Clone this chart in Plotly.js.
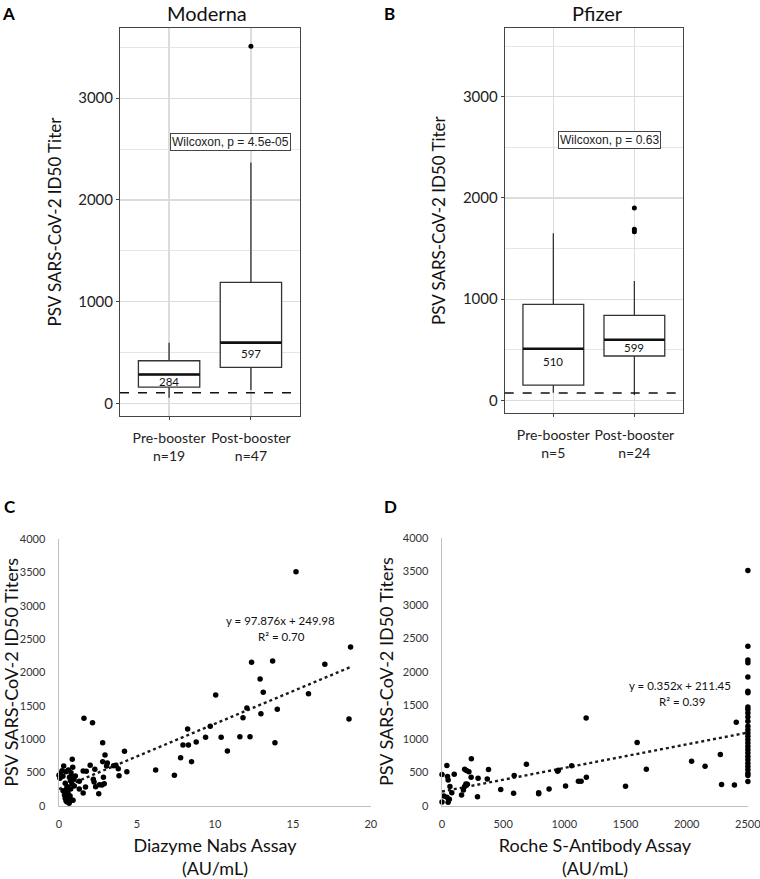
<!DOCTYPE html>
<html>
<head>
<meta charset="utf-8">
<script src="https://cdn.plot.ly/plotly-3.0.1.min.js"></script>
<style>html,body{margin:0;padding:0;background:#fff}#chart{width:760px;height:879px}</style>
</head>
<body>
<div id="chart"></div>
<script>
// ---------- Data ----------
const boxPositions = [1, 2];
const modernaCats = ['Pre-booster<br>n=19', 'Post-booster<br>n=47'];
const pfizerCats = ['Pre-booster<br>n=5', 'Post-booster<br>n=24'];

const modernaQ1 = [160, 354];
const modernaMedian = [284, 597];
const modernaQ3 = [419, 1190];
const modernaLow = [55, 131];
const modernaHigh = [596, 2367];
const modernaOutX = [2];
const modernaOutY = [3510];
const modernaLOD = 105;
const modernaP = '4.5e-05';

const pfizerQ1 = [151, 438];
const pfizerMedian = [510, 599];
const pfizerQ3 = [949, 840];
const pfizerLow = [75, 52];
const pfizerHigh = [1650, 1179];
const pfizerOutX = [2, 2, 2];
const pfizerOutY = [1900, 1690, 1665];
const pfizerLOD = 72;
const pfizerP = '0.63';

const diazymeX = [15.2, 18.7, 12.35, 13.7, 17.05, 12.9, 10.05, 13.1, 16.0, 1.6, 2.15, 18.6, 12.05, 14.0, 12.95, 11.8, 9.7, 8.25, 9.4, 10.4, 11.6, 12.25, 7.95, 8.3, 8.8, 13.85, 10.8, 7.8, 8.5, 6.2, 7.4, 4.2, 2.8, 2.95, 2.8, 3.1, 3.05, 3.5, 3.65, 3.8, 3.85, 4.35, 2.0, 2.3, 1.75, 1.55, 2.2, 2.25, 2.35, 2.6, 2.75, 2.85, 2.9, 2.55, 1.7, 1.55, 1.3, 1.3,
  0.85, 0.3, 0.0, 0.06, 0.2, 0.45, 0.6, 0.77, 0.88, 0.9, 1.05, 0.96, 0.98, 0.73, 0.4, 0.5, 0.26, 0.35, 0.4, 0.5, 0.65, 0.65, 0.71, 0.8, 0.43, 0.55, 0.83, 0.67, 0.55, 0.6, 0.45, 0.75, 0.9, 0.1, 0.25];
const diazymeY = [3510, 2380, 2150, 2170, 2120, 1900, 1660, 1700, 1680, 1310, 1245, 1300, 1465, 1445, 1380, 1320, 1190, 1150, 1025, 1025, 1035, 1035, 910, 910, 955, 945, 820, 720, 660, 535, 455, 815, 945, 760, 660, 640, 595, 600, 605, 555, 450, 510, 605, 545, 515, 520, 395, 355, 285, 315, 310, 425, 330, 180, 280, 190, 250, 365,
  695, 595, 455, 410, 525, 510, 535, 495, 575, 435, 445, 395, 295, 375, 335, 260, 225, 160, 110, 60, 35, 110, 145, 85, 195, 285, 325, 425, 220, 170, 75, 250, 80, 490, 440];
const diazymeSlope = 97.876;
const diazymeIntercept = 249.98;
const diazymeR2 = '0.70';

const rocheX = [0, 0, 15, 40, 45, 50, 40, 50, 65, 60, 80, 100, 160, 175, 185, 185, 200, 220, 195, 207, 240, 238, 290, 295, 370, 380, 480, 585, 590, 690, 790, 790, 875, 945, 951, 1010, 1060, 1115, 1137, 1178, 1180, 1500, 1595, 1670, 2040, 2150, 2275, 2285, 2390, 2405,
  2500, 2500, 2500, 2500, 2500, 2500, 2500, 2500, 2500, 2500, 2500, 2500, 2500, 2500, 2500, 2500, 2500, 2500, 2500, 2500, 2500, 2500, 2500, 2500, 2500, 2500, 2500, 2500, 2500];
const rocheY = [465, 55, 145, 600, 435, 385, 125, 50, 285, 95, 195, 470, 160, 235, 285, 545, 525, 505, 325, 320, 700, 425, 135, 410, 400, 540, 240, 185, 450, 620, 195, 180, 250, 515, 530, 295, 595, 365, 365, 1310, 425, 290, 945, 545, 665, 590, 765, 315, 310, 1245,
  3510, 2380, 2175, 2135, 1920, 1710, 1685, 1475, 1435, 1385, 1325, 1260, 1185, 1135, 1085, 1035, 985, 935, 885, 835, 785, 735, 685, 635, 585, 535, 485, 450, 360];
const rocheSlope = 0.352;
const rocheIntercept = 211.45;
const rocheR2 = '0.39';

// ---------- Build traces ----------
const FONT = 'Lato, "Open Sans", sans-serif';
const ARIAL = '"Liberation Sans", Arial, sans-serif';
const BOXW = 0.75;

function boxTraces(q1, med, q3, lo, hi, outX, outY, xa, ya) {
  const mx = [], my = [];
  boxPositions.forEach((p, i) => { mx.push(p - BOXW / 2, p + BOXW / 2, null); my.push(med[i], med[i], null); });
  return [
    {type: 'box', x: boxPositions, q1: q1, median: med, q3: q3, lowerfence: lo, upperfence: hi,
     width: BOXW, whiskerwidth: 0, fillcolor: '#ffffff', line: {color: '#333333', width: 1.3},
     boxpoints: false, xaxis: xa, yaxis: ya, hoverinfo: 'skip'},
    {type: 'scatter', mode: 'lines', x: mx, y: my, line: {color: '#111111', width: 2.6},
     xaxis: xa, yaxis: ya, hoverinfo: 'skip'},
    {type: 'scatter', mode: 'markers', x: outX, y: outY, marker: {color: '#000', size: 5},
     xaxis: xa, yaxis: ya, hoverinfo: 'skip'}
  ];
}

function scatterTraces(xs, ys, slope, intercept, xStart, xEnd, xa, ya) {
  return [
    {type: 'scatter', mode: 'lines', x: [xStart, xEnd], y: [slope * xStart + intercept, slope * xEnd + intercept],
     line: {color: '#1a1a1a', width: 2.4, dash: 'dot'}, xaxis: xa, yaxis: ya, hoverinfo: 'skip', cliponaxis: false},
    {type: 'scatter', mode: 'markers', x: xs, y: ys, marker: {color: '#000', size: 5.5},
     xaxis: xa, yaxis: ya, cliponaxis: false, hoverinfo: 'skip'}
  ];
}

const traces = [].concat(
  boxTraces(modernaQ1, modernaMedian, modernaQ3, modernaLow, modernaHigh, modernaOutX, modernaOutY, 'x', 'y'),
  boxTraces(pfizerQ1, pfizerMedian, pfizerQ3, pfizerLow, pfizerHigh, pfizerOutX, pfizerOutY, 'x2', 'y2'),
  scatterTraces(diazymeX, diazymeY, diazymeSlope, diazymeIntercept, 0, Math.max(...diazymeX), 'x3', 'y3'),
  scatterTraces(rocheX, rocheY, rocheSlope, rocheIntercept, 0, Math.max(...rocheX), 'x4', 'y4')
);

// ---------- Layout ----------
function boxXAxis(domain, cats, anchor) {
  return {domain: domain, anchor: anchor, range: [0.4, 2.6], tickmode: 'array', tickvals: boxPositions, ticktext: cats,
    showgrid: true, gridcolor: '#dcdcdc', gridwidth: 1.2, zeroline: false,
    showline: true, mirror: true, linecolor: '#444', linewidth: 1,
    ticks: 'outside', ticklen: 3, tickcolor: '#444', ticklabelstandoff: 6,
    tickfont: {family: FONT, size: 14, color: '#222'}};
}
function boxYAxis(domain, range, anchor) {
  return {domain: domain, anchor: anchor, range: range, tick0: 0, dtick: 1000,
    showgrid: true, gridcolor: '#dcdcdc', gridwidth: 1.2, zeroline: false,
    minor: {dtick: 500, showgrid: true, gridcolor: '#e6e6e6', gridwidth: 1, ticks: ''},
    showline: true, mirror: true, linecolor: '#444', linewidth: 1,
    ticks: 'outside', ticklen: 3, tickcolor: '#444',
    tickfont: {family: FONT, size: 15, color: '#222'},
    title: {text: 'PSV SARS-CoV-2 ID50 Titer', font: {family: FONT, size: 17, color: '#111'}, standoff: 12}};
}
function scatXAxis(domain, range, dtick, anchor, title) {
  return {domain: domain, anchor: anchor, range: range, tick0: 0, dtick: dtick, showgrid: false, zeroline: false,
    showline: true, linecolor: '#bfbfbf', linewidth: 1.5, ticks: '', ticklabelstandoff: 8, ticklabeloverflow: 'allow',
    tickfont: {family: FONT, size: 11, color: '#333'},
    title: {text: title, font: {family: FONT, size: 18, color: '#111'}, standoff: 10}};
}
function scatYAxis(domain, anchor) {
  return {domain: domain, anchor: anchor, range: [0, 4000], dtick: 500, showgrid: false, zeroline: false,
    showline: true, linecolor: '#bfbfbf', linewidth: 1.5, ticks: '', ticklabelstandoff: 10,
    tickfont: {family: FONT, size: 11, color: '#333'},
    title: {text: 'PSV SARS-CoV-2 ID50 Titers', font: {family: FONT, size: 18, color: '#111'}, standoff: 4}};
}

const annotations = [];
function letter(t, x, y) {
  annotations.push({text: '<b>' + t + '</b>', xref: 'paper', yref: 'paper', x: x / 760, y: 1 - y / 879,
    xanchor: 'center', yanchor: 'middle', showarrow: false, font: {family: FONT, size: 17, color: '#000'}});
}
letter('A', 8, 14); letter('B', 389, 14); letter('C', 10, 506); letter('D', 390, 506);
annotations.push({text: 'Moderna', xref: 'paper', yref: 'paper', x: 207 / 760, y: 1, xanchor: 'center', yanchor: 'top',
  showarrow: false, borderpad: 0, font: {family: FONT, size: 20, color: '#111'}});
annotations.push({text: 'Pfizer', xref: 'paper', yref: 'paper', x: 597 / 760, y: 1, xanchor: 'center', yanchor: 'top',
  showarrow: false, borderpad: 0, font: {family: FONT, size: 20, color: '#111'}});
annotations.push({text: 'Wilcoxon, p = ' + modernaP, xref: 'x', yref: 'y', x: 1.756, y: 2572, showarrow: false,
  font: {family: ARIAL, size: 12, color: '#222'}, bgcolor: '#fff', bordercolor: '#444', borderwidth: 1, borderpad: 1});
annotations.push({text: 'Wilcoxon, p = ' + pfizerP, xref: 'x2', yref: 'y2', x: 1.695, y: 2572, showarrow: false,
  font: {family: ARIAL, size: 12, color: '#222'}, bgcolor: '#fff', bordercolor: '#444', borderwidth: 1, borderpad: 1});
const medShiftA = [-7, -11], medShiftB = [-13, -8];
boxPositions.forEach((p, i) => {
  annotations.push({text: String(modernaMedian[i]), xref: 'x', yref: 'y', x: p, y: modernaMedian[i], yshift: medShiftA[i],
    showarrow: false, font: {family: FONT, size: 11.5, color: '#111'}});
  annotations.push({text: String(pfizerMedian[i]), xref: 'x2', yref: 'y2', x: p, y: pfizerMedian[i], yshift: medShiftB[i],
    showarrow: false, font: {family: FONT, size: 11.5, color: '#111'}});
});
annotations.push({text: 'y = ' + diazymeSlope + 'x + ' + diazymeIntercept, xref: 'x3', yref: 'y3', x: 14.23, y: 2785,
  showarrow: false, font: {family: FONT, size: 11.5, color: '#111'}});
annotations.push({text: 'R² = ' + diazymeR2, xref: 'x3', yref: 'y3', x: 14.27, y: 2545,
  showarrow: false, font: {family: FONT, size: 11.5, color: '#111'}});
annotations.push({text: 'y = ' + rocheSlope + 'x + ' + rocheIntercept, xref: 'x4', yref: 'y4', x: 1947, y: 1788,
  showarrow: false, font: {family: FONT, size: 11.5, color: '#111'}});
annotations.push({text: 'R² = ' + rocheR2, xref: 'x4', yref: 'y4', x: 1961, y: 1555,
  showarrow: false, font: {family: FONT, size: 11.5, color: '#111'}});

const layout = {
  width: 760, height: 879, margin: {l: 0, r: 0, t: 0, b: 0},
  paper_bgcolor: '#fff', plot_bgcolor: '#fff', showlegend: false,
  font: {family: FONT},
  xaxis: boxXAxis([120 / 760, 300 / 760], modernaCats, 'y'),
  yaxis: boxYAxis([1 - 416 / 879, 1 - 28 / 879], [-124, 3690], 'x'),
  xaxis2: boxXAxis([504.7 / 760, 683 / 760], pfizerCats, 'y2'),
  yaxis2: boxYAxis([1 - 413.3 / 879, 1 - 28 / 879], [-128, 3679], 'x2'),
  xaxis3: scatXAxis([59 / 760, 371 / 760], [0, 20.01], 5, 'y3', 'Diazyme Nabs Assay<br>(AU/mL)'),
  yaxis3: scatYAxis([1 - 805.7 / 879, 1 - 539 / 879], 'x3'),
  xaxis4: scatXAxis([442 / 760, 748 / 760], [0, 2501], 500, 'y4', 'Roche S-Antibody Assay<br>(AU/mL)'),
  yaxis4: scatYAxis([1 - 805.7 / 879, 1 - 537.7 / 879], 'x4'),
  shapes: [
    {type: 'line', xref: 'x domain', yref: 'y', x0: 0, x1: 1, y0: modernaLOD, y1: modernaLOD, line: {color: '#111', width: 1.4, dash: 'dash'}},
    {type: 'line', xref: 'x2 domain', yref: 'y2', x0: 0, x1: 1, y0: pfizerLOD, y1: pfizerLOD, line: {color: '#111', width: 1.4, dash: 'dash'}}
  ],
  annotations: annotations
};

Plotly.newPlot('chart', traces, layout, {staticPlot: true, displayModeBar: false});
</script>
</body>
</html>
